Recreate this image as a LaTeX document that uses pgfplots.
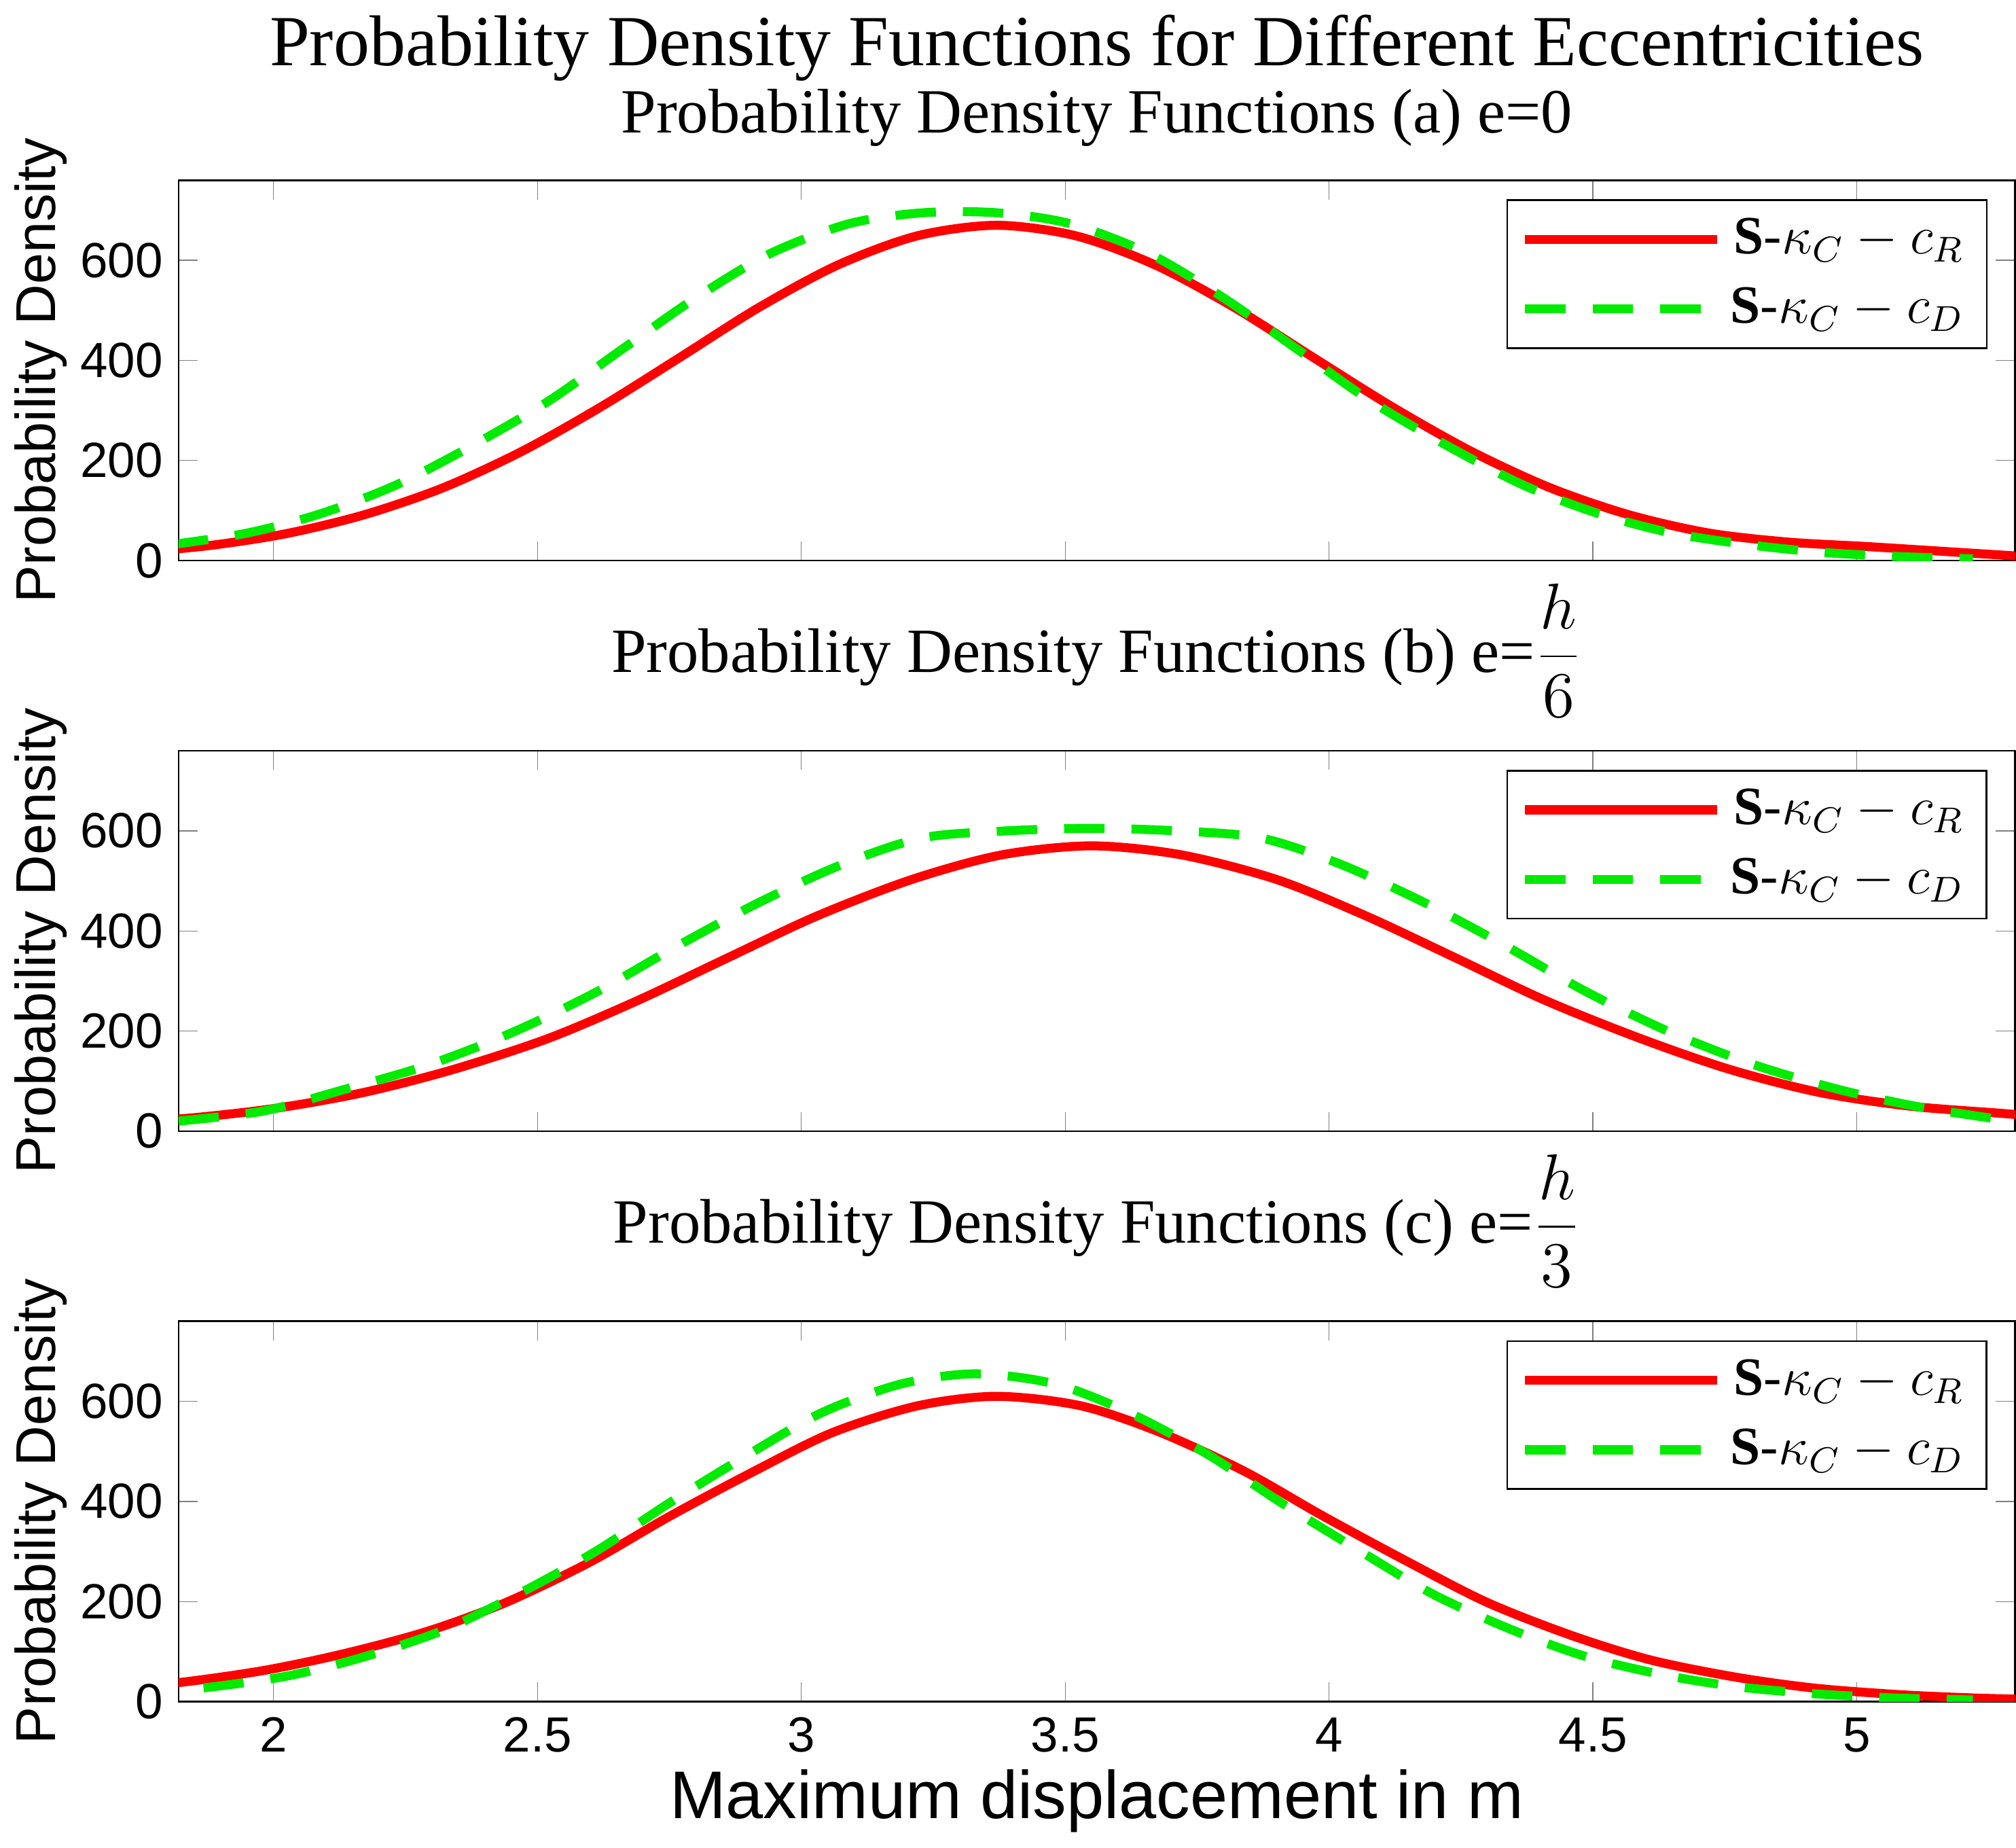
\documentclass[border=0pt]{standalone}
\usepackage{pgfplots}
\pgfplotsset{compat=1.18}
\usepackage{fontspec}
\setmainfont{Liberation Serif}
\newfontfamily\hel{Liberation Sans}
\definecolor{lg}{RGB}{0,235,0}
\pgfplotsset{pdf/.style={
 width=408.6pt,height=84.6pt,scale only axis,
 xmin=1.82,xmax=5.30,ymin=0,ymax=760,
 xtick={2,2.5,3,3.5,4,4.5,5},ytick={0,200,400,600},
 tick align=inside,tick pos=both,
 tick label style={font=\hel\fontsize{11}{12}\selectfont},
 /pgf/number format/assume math mode=true,
 ylabel={\hel\fontsize{12.5}{13}\selectfont Probability Density},
 ylabel style={yshift=-4pt},
 title style={font=\fontsize{14}{15}\selectfont,yshift=-2pt},
 axis line style={line width=0.4pt},
 legend style={at={(0.985,0.95)},anchor=north east,font=\fontsize{12}{13}\selectfont,row sep=2pt,inner xsep=3pt},
 legend cell align=right,
 legend image code/.code={\draw[##1] (0cm,0cm) -- (1.5cm,0cm);},
},
r/.style={red,line width=2pt,smooth},
g/.style={lg,line width=2pt,dash pattern=on 9pt off 6pt,smooth}}
\begin{document}
\begin{tikzpicture}
\begin{axis}[pdf,name=a1,xticklabels={},title={Probability Density Functions (a) e=0}]
\addplot[r] coordinates {(1.72,15)(1.87,29)(2.02,53)(2.17,91)(2.32,145)(2.47,218)(2.62,307)(2.77,406)(2.92,506)(3.07,591)(3.22,649)(3.37,670)(3.52,649)(3.67,591)(3.82,506)(3.97,406)(4.12,307)(4.27,218)(4.42,145)(4.57,91)(4.72,55)(4.87,37)(5.02,28)(5.17,18)(5.32,8)};
\addlegendentry{\textbf{S}-$\kappa_C - c_R$}
\addplot[g] coordinates {(1.80,31)(1.95,55)(2.09,94)(2.23,150)(2.37,226)(2.52,318)(2.66,422)(2.80,525)(2.94,613)(3.09,673)(3.23,695)(3.37,695)(3.51,673)(3.66,613)(3.80,525)(3.94,422)(4.08,318)(4.23,226)(4.37,150)(4.51,94)(4.65,55)(4.80,31)(4.94,16)(5.08,8)(5.22,3.5)};
\addlegendentry{\textbf{S}-$\kappa_C - c_D$}
\end{axis}
\begin{axis}[pdf,at={(0,-126.9pt)},xticklabels={},title={Probability Density Functions (b) e=$\displaystyle\frac{h}{6}$}]
\addplot[r] coordinates {(1.65,13)(1.83,25)(2.00,45)(2.17,77)(2.34,123)(2.52,185)(2.69,261)(2.86,346)(3.03,430)(3.21,503)(3.38,552)(3.55,570)(3.72,552)(3.90,503)(4.07,430)(4.24,346)(4.41,261)(4.59,185)(4.76,123)(4.93,77)(5.10,50)(5.28,35)(5.45,20)};
\addlegendentry{\textbf{S}-$\kappa_C - c_R$}
\addplot[g] coordinates {(1.82,20)(1.98,40)(2.13,82)(2.29,131)(2.45,196)(2.61,277)(2.76,367)(2.92,457)(3.08,534)(3.23,586)(3.39,600)(3.55,605)(3.71,600)(3.87,586)(4.02,534)(4.18,457)(4.34,367)(4.49,277)(4.65,196)(4.81,131)(4.97,82)(5.12,48)(5.28,22)};
\addlegendentry{\textbf{S}-$\kappa_C - c_D$}
\end{axis}
\begin{axis}[pdf,at={(0,-253.8pt)},title={Probability Density Functions (c) e=$\displaystyle\frac{h}{3}$},
 xlabel={\hel\fontsize{15}{16}\selectfont Maximum displacement in m},xlabel style={yshift=3pt}]
\addplot[r] coordinates {(1.67,25)(1.82,38)(1.98,62)(2.13,95)(2.29,140)(2.44,198)(2.60,279)(2.75,370)(2.91,460)(3.06,538)(3.22,591)(3.37,610)(3.53,591)(3.68,538)(3.84,460)(3.99,370)(4.15,279)(4.30,198)(4.46,132)(4.61,83)(4.77,49)(4.92,27)(5.08,14)(5.23,7)(5.39,3)};
\addlegendentry{\textbf{S}-$\kappa_C - c_R$}
\addplot[g] coordinates {(1.74,15)(1.88,29)(2.03,52)(2.17,89)(2.32,142)(2.46,213)(2.61,300)(2.75,397)(2.90,494)(3.04,578)(3.19,635)(3.33,655)(3.48,635)(3.62,578)(3.77,494)(3.91,397)(4.06,300)(4.20,213)(4.35,142)(4.49,89)(4.64,52)(4.78,29)(4.93,15)(5.07,7.3)(5.22,3.3)};
\addlegendentry{\textbf{S}-$\kappa_C - c_D$}
\node[anchor=north east,font=\hel\fontsize{11}{12}\selectfont,inner sep=0pt] at (rel axis cs:1,0) [yshift=-22pt] {$\times$10$^{-3}$};
\end{axis}
\node[font=\fontsize{16}{17}\selectfont] at (204.3pt,114pt) {Probability Density Functions for Different Eccentricities};
\end{tikzpicture}
\end{document}
